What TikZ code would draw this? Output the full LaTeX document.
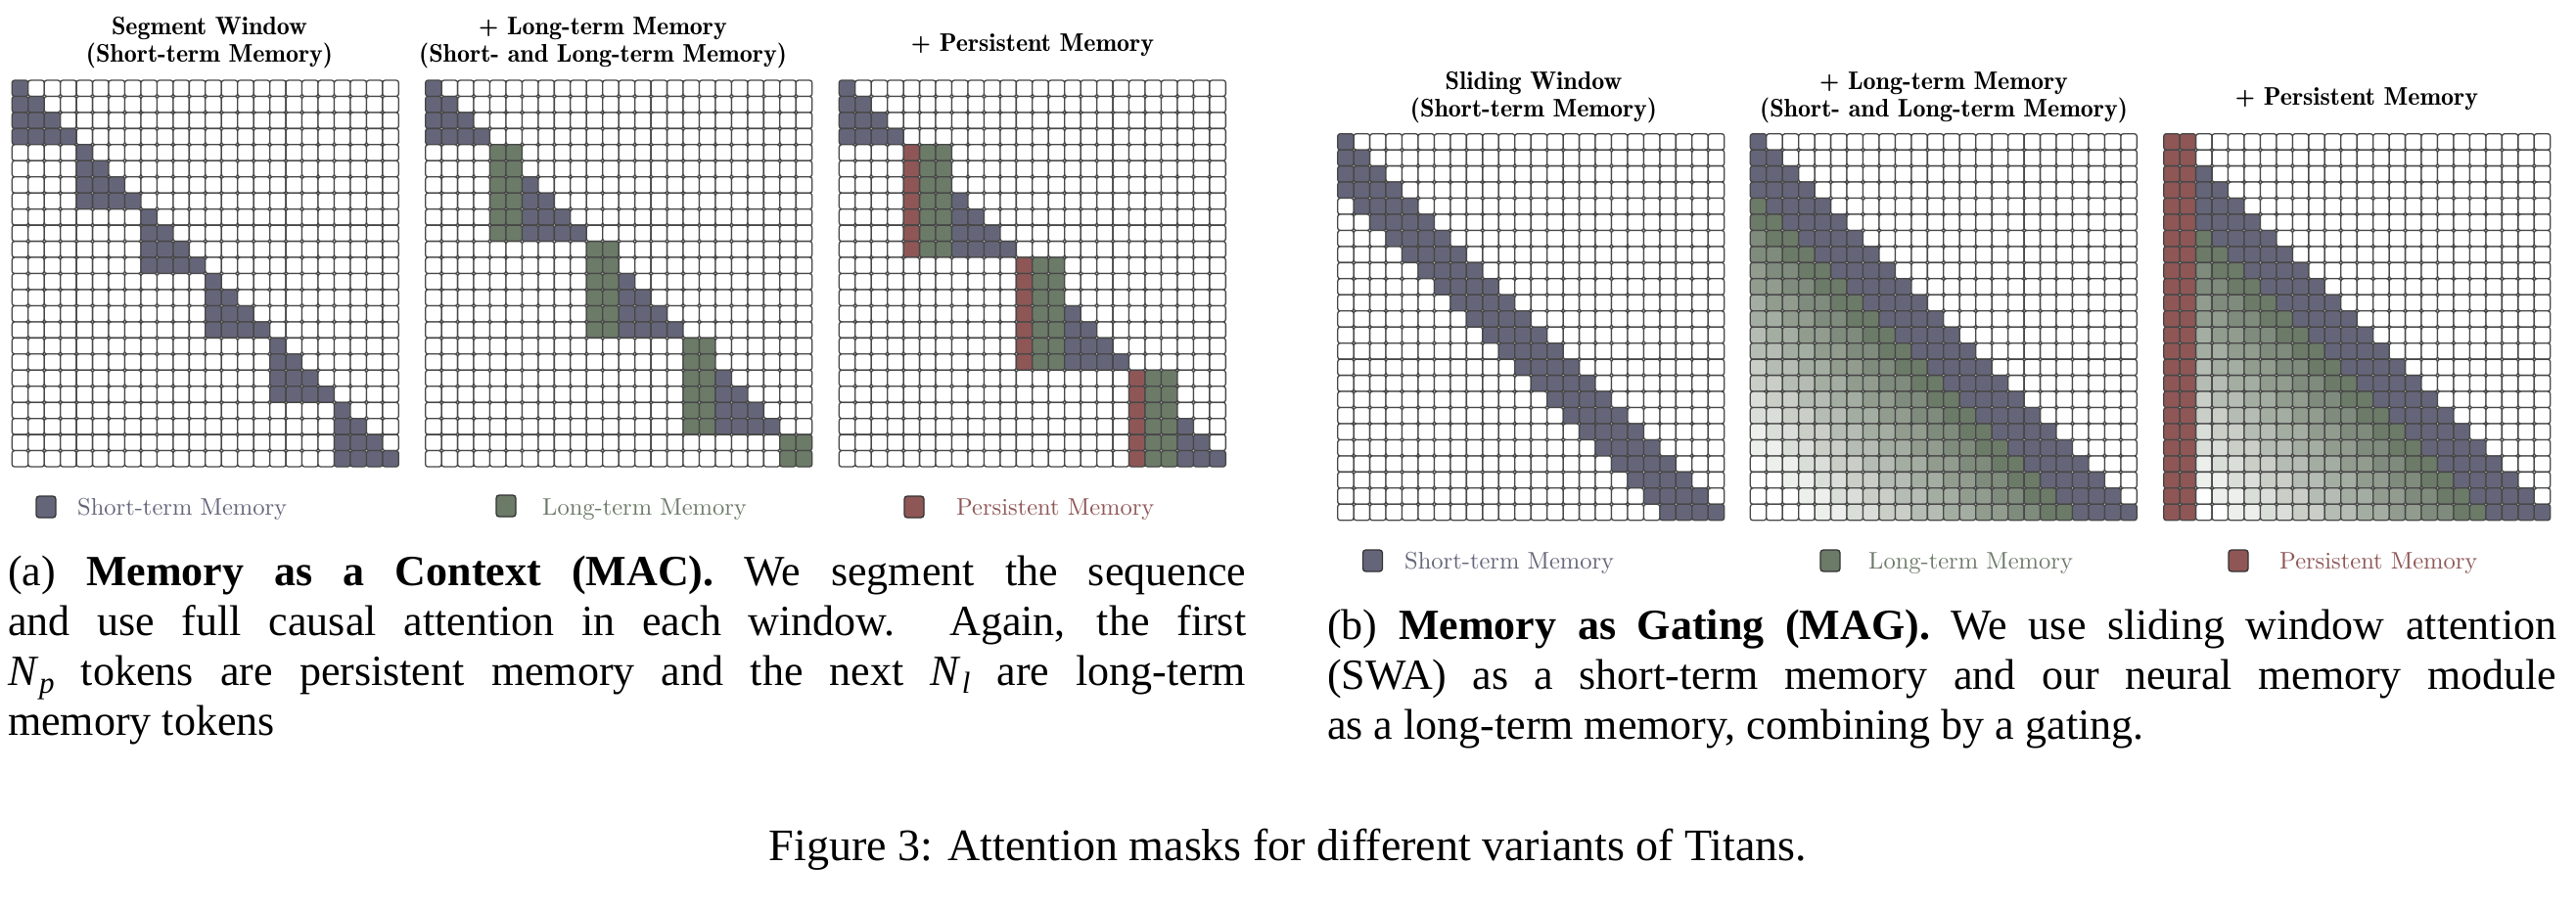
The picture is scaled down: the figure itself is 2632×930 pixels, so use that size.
\documentclass[tikz,border=0pt]{standalone}
\usepackage{fontspec}
\setmainfont{Liberation Serif}
\newfontfamily\lmfont{lmroman10-regular.otf}
\newfontfamily\demifont{lmromandemi10-regular.otf}
\definecolor{cblue}{RGB}{101,101,122}
\definecolor{cgreen}{RGB}{108,122,104}
\definecolor{cred}{RGB}{143,86,86}
\def\cs{16.46}
\tikzset{
  cell/.style={draw=black!72, line width=1.3pt, rounded corners=2.6pt},
  gtitle/.style={font=\demifont\fontsize{26}{30}\selectfont, anchor=base, inner sep=0pt},
  swatch/.style={draw=black!80, line width=1.3pt, rounded corners=3pt, minimum width=20pt, minimum height=22pt, inner sep=0pt},
  legtext/.style={font=\lmfont\fontsize{24.5}{28}\selectfont, anchor=base west, inner sep=0pt},
  capline/.style={font=\fontsize{44}{50}\selectfont, anchor=base west, inner sep=0pt},
}
\newcommand\subit[1]{\textit{N}\kern0.5pt\raisebox{-8pt}{\fontsize{31}{31}\selectfont\textit{#1}}}
\newcommand\settype[1]{%
  \def\fc{white}%
  \ifcase#1\relax
  \or
    \pgfmathtruncatemacro\qa{\ii/4}\pgfmathtruncatemacro\qb{\jj/4}%
    \ifnum\qa=\qb\relax\ifnum\jj>\ii\else\def\fc{cblue}\fi\fi
  \or
    \ifnum\ii<4 \ifnum\jj>\ii\else\def\fc{cblue}\fi
    \else
      \pgfmathtruncatemacro\sg{4+6*int((\ii-4)/6)}%
      \ifnum\jj=\sg\relax\def\fc{cgreen}\fi
      \ifnum\jj=\numexpr\sg+1\relax\def\fc{cgreen}\fi
      \ifnum\jj>\numexpr\sg+1\relax\ifnum\jj>\ii\else\def\fc{cblue}\fi\fi
    \fi
  \or
    \ifnum\ii<4 \ifnum\jj>\ii\else\def\fc{cblue}\fi
    \else
      \pgfmathtruncatemacro\sg{4+7*int((\ii-4)/7)}%
      \ifnum\jj=\sg\relax\def\fc{cred}\fi
      \ifnum\jj=\numexpr\sg+1\relax\def\fc{cgreen}\fi
      \ifnum\jj=\numexpr\sg+2\relax\def\fc{cgreen}\fi
      \ifnum\jj>\numexpr\sg+2\relax\ifnum\jj>\ii\else\def\fc{cblue}\fi\fi
    \fi
  \or
    \pgfmathtruncatemacro\dd{\ii-\jj}%
    \ifnum\dd<0 \else\ifnum\dd<4 \def\fc{cblue}\fi\fi
  \or
    \pgfmathtruncatemacro\dd{\ii-\jj}%
    \ifnum\dd<0 \else
      \ifnum\dd<4 \def\fc{cblue}\else
        \pgfmathtruncatemacro\pc{100-12.5*int((\dd-4)/2)}%
        \ifnum\pc>0 \edef\fc{cgreen!\pc!white}\fi
      \fi
    \fi
  \or
    \ifnum\jj<2 \def\fc{cred}\else
    \pgfmathtruncatemacro\dd{\ii-\jj}%
    \ifnum\dd<0 \else
      \ifnum\dd<4 \def\fc{cblue}\else
        \pgfmathtruncatemacro\pc{100-12.5*int((\dd-4)/2)}%
        \ifnum\pc>0 \edef\fc{cgreen!\pc!white}\fi
      \fi
    \fi
    \fi
  \fi}
\newcommand\drawgrid[3]{%
  \foreach \ii in {0,...,23}{%
    \foreach \jj in {0,...,23}{%
      \settype{#3}%
      \path[cell, fill=\fc] ({#1+\jj*\cs},{#2+\ii*\cs}) rectangle ++(\cs,\cs);
    }}}
\begin{document}
\begin{tikzpicture}[x=1pt,y=-1pt]
\fill[white] (0,0) rectangle (2632,930);
\useasboundingbox (0,0) rectangle (2632,930);
% grids
\drawgrid{12.3}{82}{1}
\drawgrid{434.7}{82}{2}
\drawgrid{857.3}{82}{3}
\drawgrid{1366.7}{136.7}{4}
\drawgrid{1788.3}{136.7}{5}
\drawgrid{2210.7}{136.7}{6}
% titles
\node[gtitle] (ta1a) at (214,35) {Segment Window};
\node[gtitle] (ta1b) at (214,63) {(Short-term Memory)};
\node[gtitle] (ta2a) at (616,35) {+ Long-term Memory};
\node[gtitle] (ta2b) at (616,63) {(Short- and Long-term Memory)};
\node[gtitle] (ta3) at (1055,52.7) {+ Persistent Memory};
\node[gtitle] (tb1a) at (1567,91.7) {Sliding Window};
\node[gtitle] (tb1b) at (1567,119.5) {(Short-term Memory)};
\node[gtitle] (tb2a) at (1986,91.7) {+ Long-term Memory};
\node[gtitle] (tb2b) at (1986,119.5) {(Short- and Long-term Memory)};
\node[gtitle] (tb3) at (2408,107) {+ Persistent Memory};
% legends (a)
\node[swatch, fill=cblue] (sa1) at (47,518) {};
\node[legtext, text=cblue] (la1) at (79,526.7) {Short-term Memory};
\node[swatch, fill=cgreen] (sa2) at (517,517) {};
\node[legtext, text=cgreen] (la2) at (554,526.7) {Long-term Memory};
\node[swatch, fill=cred] (sa3) at (934,518) {};
\node[legtext, text=cred] (la3) at (977,526.7) {Persistent Memory};
% legends (b)
\node[swatch, fill=cblue] (sb1) at (1402.5,573) {};
\node[legtext, text=cblue] (lb1) at (1435,581.7) {Short-term Memory};
\node[swatch, fill=cgreen] (sb2) at (1870,573) {};
\node[legtext, text=cgreen] (lb2) at (1909,581.7) {Long-term Memory};
\node[swatch, fill=cred] (sb3) at (2287,573) {};
\node[legtext, text=cred] (lb3) at (2329,581.7) {Persistent Memory};
% caption (a)
\node[capline] (ca1) at (8,598) {\makebox[1265pt][s]{(a) \textbf{Memory as a Context (MAC).} We segment the sequence}};
\node[capline] (ca2) at (8,649) {\makebox[1265pt][s]{and use full causal attention in each window.\ \ Again, the first}};
\node[capline] (ca3) at (8,700) {\makebox[1265pt][s]{\subit{p} tokens are persistent memory and the next \subit{l} are long-term}};
\node[capline] (ca4) at (8,751) {memory tokens};
% caption (b)
\node[capline] (cb1) at (1356,653) {\makebox[1256pt][s]{(b) \textbf{Memory as Gating (MAG).} We use sliding window attention}};
\node[capline] (cb2) at (1356,704) {\makebox[1256pt][s]{(SWA) as a short-term memory and our neural memory module}};
\node[capline] (cb3) at (1356,755) {as a long-term memory, combining by a gating.};
% figure caption
\node[font=\fontsize{46}{52}\selectfont, anchor=base, inner sep=0pt] (fig) at (1316,879) {Figure 3: Attention masks for different variants of Titans.};
\end{tikzpicture}
\end{document}
